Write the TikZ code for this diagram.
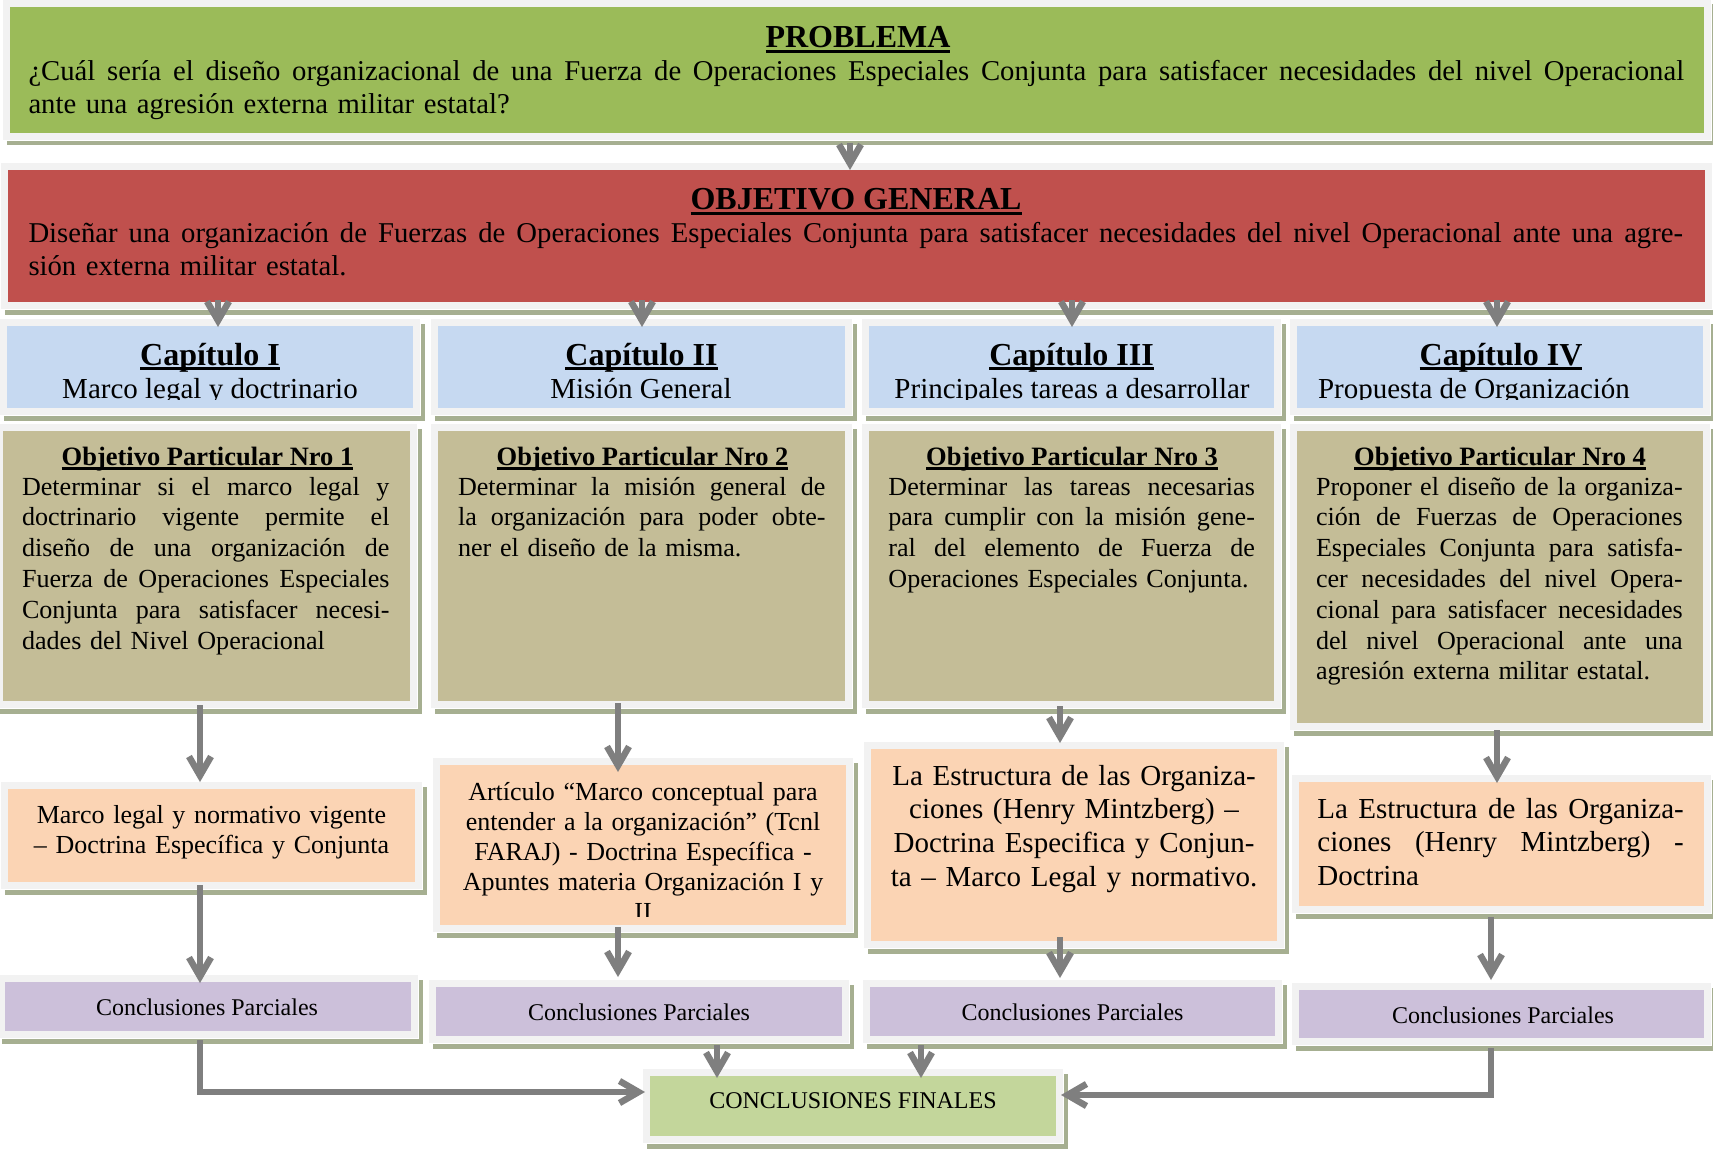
\documentclass[tikz,border=0pt]{standalone}
\usepackage{fontspec}
\setmainfont{Liberation Serif}
\usetikzlibrary{arrows.meta,calc}
\definecolor{gprob}{HTML}{9BBB59}
\definecolor{robj}{HTML}{C0504D}
\definecolor{bcap}{HTML}{C6D9F1}
\definecolor{tanc}{HTML}{C4BD97}
\definecolor{peach}{HTML}{FBD4B4}
\definecolor{purp}{HTML}{CCC0DA}
\definecolor{gfin}{HTML}{C3D69B}
\definecolor{framec}{HTML}{F2F2F2}
\definecolor{shadc}{HTML}{A6AF91}
\definecolor{arrc}{HTML}{7F7F7F}
\newsavebox\ulbox
\newlength\jwid
\newcommand\ulin[1]{\sbox\ulbox{#1}\rlap{\rule[-0.17em]{\wd\ulbox}{0.1em}}\usebox\ulbox}
\newcommand\myhead{\fontsize{32}{36}\selectfont\bfseries}
\newcommand\mybig{\fontsize{28.7}{32.5}\selectfont}
\newcommand\mycapt{\fontsize{32}{36}\selectfont\bfseries}
\newcommand\mycaps{\fontsize{29}{33}\selectfont}
\newcommand\myopt{\fontsize{26.5}{30}\selectfont\bfseries}
\newcommand\mybody{\fontsize{26.1}{30.8}\selectfont}
\newcommand\mypa{\fontsize{26}{30}\selectfont}
\newcommand\mypb{\fontsize{29}{33.7}\selectfont}
\newcommand\mycp{\fontsize{24}{28}\selectfont}
\newcommand\jl[1]{\hbox to\jwid{\spaceskip=0.25em plus 1fil\relax#1}\par}
\newcommand\mybox[6]{%
  \fill[shadc] ({#2-3.5},{#3-2.5}) rectangle ({#4+11.5},{#5+12.5});
  \filldraw[fill=framec,draw=white,line width=1pt] ({#2-7.5},{#3-7.5}) rectangle ({#4+7.5},{#5+7.5});
  \node[fill=#6,inner sep=0pt,outer sep=0pt,minimum width={#4-#2},minimum height={#5-#3}] (#1) at ({(#2+#4)/2},{(#3+#5)/2}) {};}
\tikzset{
  arr/.style={draw=arrc,line width=6.5pt,-{Straight Barb[length=19pt,width=22pt]}},
  txt/.style={inner sep=0pt,outer sep=0pt,text=black}
}
\begin{document}
\begin{tikzpicture}[x=1pt,y=-1pt]
\useasboundingbox (0,0) rectangle (1713,1150);
\clip (0,0) rectangle (1713,1150);
\fill[white] (0,0) rectangle (1713,1150);
% boxes
\mybox{prob}{10}{7}{1704}{133}{gprob}
\mybox{obj}{8}{170}{1705}{302}{robj}
\mybox{ch1}{7}{326}{413}{408}{bcap}
\mybox{ch2}{438}{326}{845}{408}{bcap}
\mybox{ch3}{869}{326}{1274}{408}{bcap}
\mybox{ch4}{1297}{326}{1703}{408}{bcap}
\mybox{op1}{3}{431}{410}{701}{tanc}
\mybox{op2}{438}{431}{845}{701}{tanc}
\mybox{op3}{869}{431}{1274}{701}{tanc}
\mybox{op4}{1297}{431}{1703}{723}{tanc}
\mybox{p1}{8}{789}{415}{882}{peach}
\mybox{p2}{440}{765}{846}{925}{peach}
\mybox{p3}{871}{749}{1277}{941}{peach}
\mybox{p4}{1299}{782}{1704}{906}{peach}
\mybox{cp1}{5}{982}{411}{1031}{purp}
\mybox{cp2}{436}{987}{842}{1036}{purp}
\mybox{cp3}{870}{987}{1275}{1036}{purp}
\mybox{cp4}{1299}{990}{1704}{1038}{purp}
\mybox{cf}{650}{1076}{1056}{1136}{gfin}
% texts
\node[txt,anchor=base,font=\myhead] (hprob) at (858,48) {\ulin{PROBLEMA}};
\node[txt,anchor=base west,text width=1655.5pt,font=\mybig] (tprob) at (28.5,81) {\setlength\jwid{1655.5pt}\jl{¿Cuál sería el diseño organizacional de una Fuerza de Operaciones Especiales Conjunta para satisfacer necesidades del nivel Operacional}ante una agresión externa militar estatal?};
\node[txt,anchor=base,font=\myhead] (hobj) at (856,210) {\ulin{OBJETIVO GENERAL}};
\node[txt,anchor=base west,text width=1654.5pt,font=\mybig] (tobj) at (28.5,243) {\setlength\jwid{1654.5pt}\jl{Diseñar una organización de Fuerzas de Operaciones Especiales Conjunta para satisfacer necesidades del nivel Operacional ante una agre-}sión externa militar estatal.};
% chapters
\node[txt,anchor=base,font=\mycapt] (hch1) at (210,365) {\ulin{Capítulo I}};
\node[txt,anchor=base,font=\mycapt] (hch2) at (641.5,365) {\ulin{Capítulo II}};
\node[txt,anchor=base,font=\mycapt] (hch3) at (1071.5,365) {\ulin{Capítulo III}};
\node[txt,anchor=base,font=\mycapt] (hch4) at (1501,365) {\ulin{Capítulo IV}};
\begin{scope}
\clip (7,326) rectangle (1703,399.5);
\node[txt,anchor=base,font=\mycaps] (sch1) at (210,398) {Marco legal y doctrinario};
\node[txt,anchor=base,font=\mycaps] (sch2) at (641,398) {Misión General};
\node[txt,anchor=base,font=\mycaps] (sch3) at (1072,398) {Principales tareas a desarrollar};
\node[txt,anchor=base west,font=\mycaps] (sch4) at (1318,398) {Propuesta de Organización};
\end{scope}
% objetivos particulares
\node[txt,anchor=base,font=\myopt] (hop1) at (207.5,465) {\ulin{Objetivo Particular Nro 1}};
\node[txt,anchor=base,font=\myopt] (hop2) at (642.5,465) {\ulin{Objetivo Particular Nro 2}};
\node[txt,anchor=base,font=\myopt] (hop3) at (1072,465) {\ulin{Objetivo Particular Nro 3}};
\node[txt,anchor=base,font=\myopt] (hop4) at (1500,465) {\ulin{Objetivo Particular Nro 4}};
\node[txt,anchor=base west,text width=367.5pt,font=\mybody] (top1) at (22,495) {\setlength\jwid{367.5pt}\jl{Determinar si el marco legal y}\jl{doctrinario vigente permite el}\jl{diseño de una organización de}\jl{Fuerza de Operaciones Especiales}\jl{Conjunta para satisfacer necesi-}dades del Nivel Operacional};
\node[txt,anchor=base west,text width=367.5pt,font=\mybody] (top2) at (458,495) {\setlength\jwid{367.5pt}\jl{Determinar la misión general de}\jl{la organización para poder obte-}ner el diseño de la misma.};
\node[txt,anchor=base west,text width=366.5pt,font=\mybody] (top3) at (888.4,495) {\setlength\jwid{366.5pt}\jl{Determinar las tareas necesarias}\jl{para cumplir con la misión gene-}\jl{ral del elemento de Fuerza de}Operaciones Especiales Conjunta.};
\node[txt,anchor=base west,text width=366.7pt,font=\mybody] (top4) at (1316,495) {\setlength\jwid{366.7pt}\jl{Proponer el diseño de la organiza-}\jl{ción de Fuerzas de Operaciones}\jl{Especiales Conjunta para satisfa-}\jl{cer necesidades del nivel Opera-}\jl{cional para satisfacer necesidades}\jl{del nivel Operacional ante una}agresión externa militar estatal.};
% peach boxes
\node[txt,anchor=base,align=center,text width=400pt,font=\mypa] (tp1) at (211.5,823) {Marco legal y normativo vigente\\– Doctrina Específica y Conjunta};
\begin{scope}
\clip (440,765) rectangle (846,916);
\node[txt,anchor=base,align=center,text width=400pt,font=\mypa] (tp2) at (643,800) {Artículo “Marco conceptual para\\entender a la organización” (Tcnl\\FARAJ) - Doctrina Específica -\\Apuntes materia Organización I y\\II};
\end{scope}
\node[txt,anchor=base,align=center,text width=400pt,font=\mypb] (tp3) at (1074,785) {La Estructura de las Organiza-\\ciones (Henry Mintzberg) –\\Doctrina Especifica y Conjun-\\ta – Marco Legal y normativo.};
\node[txt,anchor=base west,text width=366.4pt,font=\mypb] (tp4) at (1317.4,818) {\setlength\jwid{366.4pt}\jl{La Estructura de las Organiza-}\jl{ciones (Henry Mintzberg) -}Doctrina};
% conclusions
\node[txt,anchor=base,font=\mycp] (tcp1) at (207,1015) {Conclusiones Parciales};
\node[txt,anchor=base,font=\mycp] (tcp2) at (639,1020) {Conclusiones Parciales};
\node[txt,anchor=base,font=\mycp] (tcp3) at (1072.5,1020) {Conclusiones Parciales};
\node[txt,anchor=base,font=\mycp] (tcp4) at (1503,1023) {Conclusiones Parciales};
\node[txt,anchor=base,font=\mycp] (tcf) at (853,1108) {CONCLUSIONES FINALES};
% arrows
\draw[arr] ($(prob.south)+(-7,10)$) -- ($(obj.north)+(-6.5,0)$);
\draw[arr] ($(obj.south -| ch1.north)+(8,-2)$) -- ($(ch1.north)+(8,1)$);
\draw[arr] ($(obj.south -| ch2.north)+(0.5,-2)$) -- ($(ch2.north)+(0.5,1)$);
\draw[arr] ($(obj.south -| ch3.north)+(0.5,-2)$) -- ($(ch3.north)+(0.5,1)$);
\draw[arr] ($(obj.south -| ch4.north)+(-3,-2)$) -- ($(ch4.north)+(-3,1)$);
\draw[arr] ($(op1.south)+(-6.5,4)$) -- ($(p1.north)+(-11.5,-7)$);
\draw[arr] ($(op2.south)+(-23.5,2)$) -- ($(p2.north)+(-25,7)$);
\draw[arr] ($(op3.south)+(-11.5,5)$) -- ($(p3.north)+(-14,-6)$);
\draw[arr] ($(op4.south)+(-3,7)$) -- ($(p4.north)+(-4.5,1)$);
\draw[arr] ($(p1.south)+(-11.5,3)$) -- ($(cp1.north)+(-8,1)$);
\draw[arr] ($(p2.south)+(-25,2)$) -- ($(cp2.north)+(-21,-10)$);
\draw[arr] ($(p3.south)+(-14,-4)$) -- ($(cp3.north)+(-12.5,-9)$);
\draw[arr] ($(p4.south)+(-10.5,11)$) -- ($(cp4.north)+(-10.5,-10)$);
\draw[arr] ($(cp1.south)+(-8,9)$) |- ($(cf.west)+(-5,-14)$);
\draw[arr] ($(cp2.south)+(78,9)$) -- ($(cf.north)+(-136,2)$);
\draw[arr] ($(cp3.south)+(-151.5,9)$) -- ($(cf.north)+(68,2)$);
\draw[arr] ($(cp4.south)+(-10.5,10)$) |- ($(cf.east)+(5,-11)$);
\end{tikzpicture}
\end{document}
